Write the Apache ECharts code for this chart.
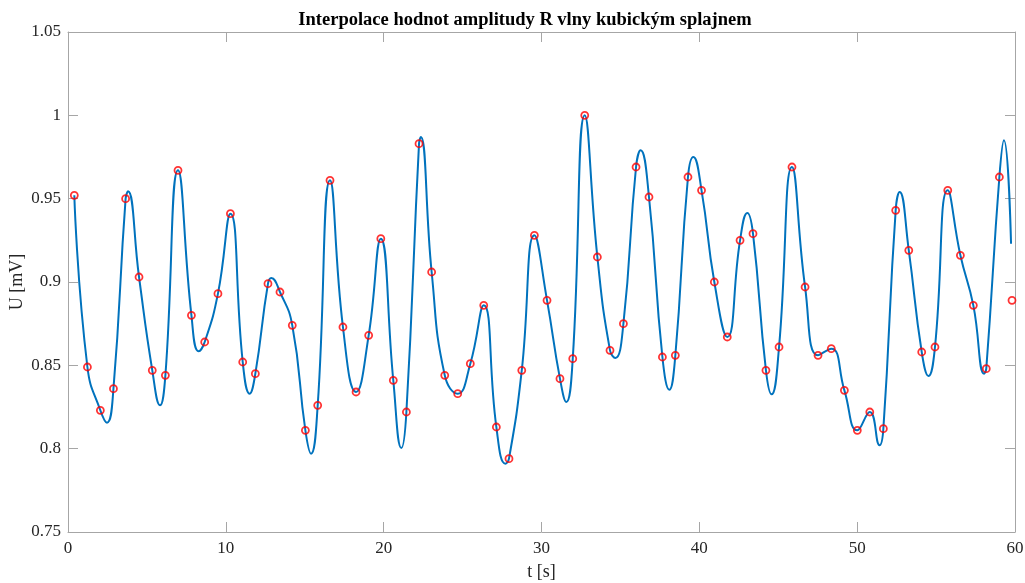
<!DOCTYPE html>
<html>
<head>
<meta charset="utf-8">
<script src="https://cdn.jsdelivr.net/npm/echarts@6/dist/echarts.min.js"></script>
<style>
  html, body { margin: 0; padding: 0; background: #fff; }
  #chart { width: 1025px; height: 583px; }
</style>
</head>
<body>
<div id="chart"></div>
<script>
// vzorky amplitudy R vlny (cervena kolecka)
const tSamples = [
  0.40, 1.23, 2.05, 2.88, 3.65, 4.50, 5.34, 6.17, 6.97, 7.82,
  8.66, 9.50, 10.29, 11.07, 11.87, 12.67, 13.43, 14.21, 15.04, 15.82,
  16.60, 17.42, 18.25, 19.05, 19.82, 20.61, 21.44, 22.24, 23.04, 23.87,
  24.69, 25.49, 26.34, 27.14, 27.94, 28.75, 29.55, 30.35, 31.17, 31.98,
  32.74, 33.54, 34.34, 35.19, 35.99, 36.81, 37.66, 38.48, 39.28, 40.14,
  40.95, 41.77, 42.58, 43.40, 44.22, 45.05, 45.87, 46.70, 47.52, 48.36,
  49.19, 50.01, 50.80, 51.66, 52.44, 53.27, 54.09, 54.93, 55.74, 56.54,
  57.36, 58.18, 59.01, 59.81
]
const uSamples = [
  0.952, 0.849, 0.823, 0.836, 0.950, 0.903, 0.847, 0.844, 0.967, 0.880,
  0.864, 0.893, 0.941, 0.852, 0.845, 0.899, 0.894, 0.874, 0.811, 0.826,
  0.961, 0.873, 0.834, 0.868, 0.926, 0.841, 0.822, 0.983, 0.906, 0.844,
  0.833, 0.851, 0.886, 0.813, 0.794, 0.847, 0.928, 0.889, 0.842, 0.854,
  1.000, 0.915, 0.859, 0.875, 0.969, 0.951, 0.855, 0.856, 0.963, 0.955,
  0.900, 0.867, 0.925, 0.929, 0.847, 0.861, 0.969, 0.897, 0.856, 0.860,
  0.835, 0.811, 0.822, 0.812, 0.943, 0.919, 0.858, 0.861, 0.955, 0.916,
  0.886, 0.848, 0.963, 0.889
]

// spline - vrcholy a udoli (mezi vzorky)
const tExtrema = [
  2.47, 3.80, 5.83, 8.28, 11.51, 12.88, 15.40, 21.12, 22.35, 27.71,
  31.57, 34.68, 36.28, 38.10, 39.62, 43.04, 44.58, 51.42, 52.69, 54.52,
  58.05, 59.30, 59.75
]
const uExtrema = [
  0.8156, 0.9544, 0.826, 0.8584, 0.833, 0.9024, 0.797, 0.8004, 0.987, 0.791,
  0.828, 0.8544, 0.979, 0.8354, 0.975, 0.9414, 0.8326, 0.802, 0.954, 0.8436,
  0.845, 0.985, 0.923
]

const xTicks = [0, 10, 20, 30, 40, 50, 60]
const yMin = 0.75
const yMax = 1.05

const points = tSamples.map((t, i) => [t, uSamples[i]])
// krivka: vzorky (bez posledniho) + extremy, serazeno podle casu
const curve = points.slice(0, -1)
  .concat(tExtrema.map((t, i) => [t, uExtrema[i]]))
  .sort((a, b) => a[0] - b[0])

const serif = 'Liberation Serif'
const axisColor = '#262626'
const lineGray = '#a6a6a6'

const chart = echarts.init(document.getElementById('chart'))
const option = {
  animation: false,
  title: {
    text: 'Interpolace hodnot amplitudy R vlny kubickým splajnem',
    left: 520,
    textAlign: 'center',
    top: 6,
    textStyle: { fontFamily: serif, fontSize: 18.5, fontWeight: 'bold', color: '#000' },
  },
  grid: { left: 68, right: 10, top: 32, bottom: 51, outerBoundsMode: 'none' },
  xAxis: [
    {
      type: 'value',
      min: xTicks[0],
      max: xTicks[xTicks.length - 1],
      interval: 10,
      name: 't [s]',
      nameLocation: 'middle',
      nameGap: 31,
      nameTextStyle: { fontFamily: serif, fontSize: 18, color: axisColor },
      axisLine: { lineStyle: { color: lineGray, width: 1 } },
      axisTick: { inside: true, length: 10, lineStyle: { color: lineGray } },
      axisLabel: { fontFamily: serif, fontSize: 17, color: axisColor, margin: 8 },
      splitLine: { show: false },
    },
    {
      type: 'value',
      position: 'top',
      min: xTicks[0],
      max: xTicks[xTicks.length - 1],
      interval: 10,
      axisLine: { onZero: false, lineStyle: { color: lineGray, width: 1 } },
      axisTick: { inside: true, length: 10, lineStyle: { color: lineGray } },
      axisLabel: { show: false },
      splitLine: { show: false },
    },
  ],
  yAxis: [
    {
      type: 'value',
      min: yMin,
      max: yMax,
      interval: 0.05,
      name: 'U [mV]',
      nameLocation: 'middle',
      nameGap: 42,
      nameMoveOverlap: false,
      nameTextStyle: { fontFamily: serif, fontSize: 18, color: axisColor },
      axisLine: { show: true, onZero: false, lineStyle: { color: lineGray, width: 1 } },
      axisTick: { show: true, inside: true, length: 10, lineStyle: { color: lineGray } },
      axisLabel: {
        fontFamily: serif, fontSize: 17, color: axisColor, margin: 7,
        formatter: (v) => String(+v.toFixed(2)),
      },
      splitLine: { show: false },
    },
    {
      type: 'value',
      position: 'right',
      min: yMin,
      max: yMax,
      interval: 0.05,
      axisLine: { show: true, onZero: false, lineStyle: { color: lineGray, width: 1 } },
      axisTick: { show: true, inside: true, length: 10, lineStyle: { color: lineGray } },
      axisLabel: { show: false },
      splitLine: { show: false },
    },
  ],
  series: [
    {
      name: 'spline',
      type: 'line',
      data: curve,
      smooth: 0.5,
      showSymbol: false,
      lineStyle: { color: '#0072BD', width: 2 },
      z: 2,
    },
    {
      name: 'vzorky',
      type: 'scatter',
      data: points,
      symbol: 'circle',
      symbolSize: 7,
      itemStyle: { color: 'rgba(0,0,0,0)', borderColor: '#ff0000', borderWidth: 1.8 },
      z: 3,
    },
  ],
}
option && chart.setOption(option)
</script>
</body>
</html>
